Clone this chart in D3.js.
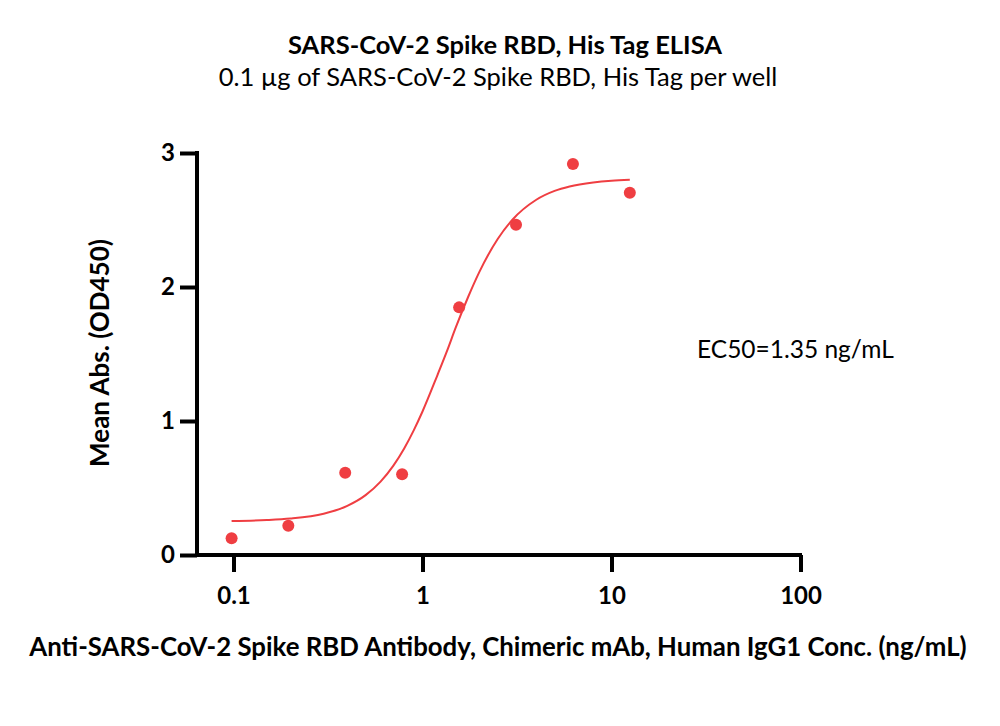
<!DOCTYPE html>
<html>
<head>
<meta charset="utf-8">
<script src="https://cdn.jsdelivr.net/npm/d3@7"></script>
<style>
  html, body { margin: 0; padding: 0; background: #fff; }
  svg { display: block; }
</style>
</head>
<body>
<svg id="chart" width="1000" height="726"></svg>
<script>
// ---- data ----
const concentrations = [0.0977, 0.195, 0.39, 0.78, 1.5625, 3.125, 6.25, 12.5];
const meanAbs        = [0.125, 0.219, 0.614, 0.602, 1.848, 2.465, 2.918, 2.704];
// fitted curve
const curveX = [0.0977, 0.15, 0.2, 0.3, 0.4, 0.5, 0.6, 0.7, 0.8, 0.9, 1.0, 1.2, 1.35, 1.5, 1.75, 2.0, 2.5, 3.0, 4.0, 5.0, 6.0, 8.0, 10, 12.5];
const curveY = [0.254, 0.261, 0.272, 0.308, 0.367, 0.447, 0.548, 0.665, 0.795, 0.932, 1.071, 1.343, 1.525, 1.698, 1.931, 2.113, 2.358, 2.504, 2.651, 2.717, 2.750, 2.780, 2.793, 2.800];
const xTicks = [0.1, 1, 10, 100];
const xTickLabels = ["0.1", "1", "10", "100"];
const yTicks = [0, 1, 2, 3];
const yTickLabels = ["0", "1", "2", "3"];
const titleText = "SARS-CoV-2 Spike RBD, His Tag ELISA";
const subtitleText = "0.1 \u00b5g of SARS-CoV-2 Spike RBD, His Tag per well";
const xTitle = "Anti-SARS-CoV-2 Spike RBD Antibody, Chimeric mAb, Human IgG1 Conc. (ng/mL)";
const yTitle = "Mean Abs. (OD450)";
const annotation = "EC50=1.35 ng/mL";

// ---- layout ----
const svg = d3.select("#chart");
const font = "Lato, 'Open Sans', sans-serif";
const red = "#ef3e42";
const axisLeft = 197, axisBottom = 555;

const x = d3.scaleLog().domain([0.1, 100]).range([233.5, 800.5]);
const y = d3.scaleLinear().domain([0, 3]).range([555, 153]);

// titles
svg.append("text").attr("x", 505).attr("y", 54).attr("text-anchor", "middle")
  .attr("font-family", font).attr("font-weight", 700).attr("font-size", 25.5)
  .text(titleText);
svg.append("text").attr("x", 498).attr("y", 86).attr("text-anchor", "middle")
  .attr("font-family", font).attr("font-size", 25.5)
  .text(subtitleText);

// axes
const xAxis = d3.axisBottom(x).tickValues(xTicks).tickFormat((d, i) => xTickLabels[i])
  .tickSize(17).tickSizeOuter(0).tickPadding(15);
const gx = svg.append("g").attr("transform", `translate(0,${axisBottom})`).call(xAxis);
gx.select(".domain").remove();
gx.append("line").attr("x1", axisLeft - 2).attr("x2", 802).attr("y1", 0).attr("y2", 0)
  .attr("stroke", "#000").attr("stroke-width", 4);
gx.selectAll(".tick line").attr("stroke", "#000").attr("stroke-width", 4);
gx.selectAll(".tick text").attr("font-family", font).attr("font-weight", 700)
  .attr("font-size", 24).attr("fill", "#000");

const yAxis = d3.axisLeft(y).tickValues(yTicks).tickFormat((d, i) => yTickLabels[i])
  .tickSize(17).tickSizeOuter(0).tickPadding(5);
const gy = svg.append("g").attr("transform", `translate(${axisLeft},0)`).call(yAxis);
gy.select(".domain").remove();
gy.append("line").attr("x1", 0).attr("x2", 0).attr("y1", 151).attr("y2", axisBottom + 2)
  .attr("stroke", "#000").attr("stroke-width", 4);
gy.selectAll(".tick line").attr("stroke", "#000").attr("stroke-width", 4);
gy.selectAll(".tick text").attr("font-family", font).attr("font-weight", 700)
  .attr("font-size", 24).attr("fill", "#000");

// axis titles
svg.append("text").attr("x", 498).attr("y", 656).attr("text-anchor", "middle")
  .attr("font-family", font).attr("font-weight", 700).attr("font-size", 25.8)
  .text(xTitle);
svg.append("text").attr("transform", "translate(109,353) rotate(-90)").attr("text-anchor", "middle")
  .attr("font-family", font).attr("font-weight", 700).attr("font-size", 26)
  .text(yTitle);

// curve
const curveData = curveX.map((c, i) => [c, curveY[i]]);
const line = d3.line().x(d => x(d[0])).y(d => y(d[1])).curve(d3.curveMonotoneX);
svg.append("path").datum(curveData).attr("d", line)
  .attr("fill", "none").attr("stroke", red).attr("stroke-width", 2);

// points
svg.append("g").selectAll("circle")
  .data(concentrations.map((c, i) => [c, meanAbs[i]]))
  .join("circle")
  .attr("cx", d => x(d[0])).attr("cy", d => y(d[1])).attr("r", 6)
  .attr("fill", red);

// annotation
svg.append("text").attr("x", 697).attr("y", 358)
  .attr("font-family", font).attr("font-size", 24.5)
  .text(annotation);
</script>
</body>
</html>
